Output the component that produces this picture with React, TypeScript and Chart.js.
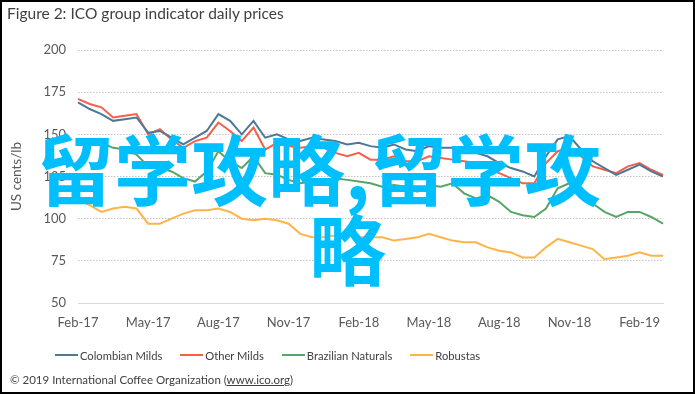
import React, { useEffect, useRef } from "react";
import { Chart, registerables } from "chart.js";

Chart.register(...registerables);

// semi-monthly observation dates, 1 Feb 2017 .. 1 Mar 2019
const dates: string[] = [
  "2017-02-01","2017-02-15","2017-03-01","2017-03-15","2017-04-01","2017-04-15",
  "2017-05-01","2017-05-15","2017-06-01","2017-06-15","2017-07-01","2017-07-15",
  "2017-08-01","2017-08-15","2017-09-01","2017-09-15","2017-10-01","2017-10-15",
  "2017-11-01","2017-11-15","2017-12-01","2017-12-15","2018-01-01","2018-01-15",
  "2018-02-01","2018-02-15","2018-03-01","2018-03-15","2018-04-01","2018-04-15",
  "2018-05-01","2018-05-15","2018-06-01","2018-06-15","2018-07-01","2018-07-15",
  "2018-08-01","2018-08-15","2018-09-01","2018-09-15","2018-10-01","2018-10-15",
  "2018-11-01","2018-11-15","2018-12-01","2018-12-15","2019-01-01","2019-01-15",
  "2019-02-01","2019-02-15","2019-03-01",
];

const tickLabels: string[] = [
  "Feb-17","May-17","Aug-17","Nov-17","Feb-18","May-18","Aug-18","Nov-18","Feb-19",
];

const colombianMilds: number[] = [
  169,165,162,158,159,160,151,152,148,144,148,152,162,158,150,158,148,150,
  147,146,148,147,146,144,145,143,142,144,141,140,143,142,142,139,139,137,
  133,130,128,125,137,147,149,141,134,130,126,129,132,128,125,
];

const otherMilds: number[] = [
  171,168,166,160,161,162,150,153,147,142,146,148,157,152,146,154,141,145,
  143,142,143,142,139,137,139,135,135,137,134,134,137,136,135,134,133,130,
  127,124,121,121,133,140,142,137,131,129,127,131,133,129,126,
];

const brazilianNaturals: number[] = [
  147,146,145,142,141,138,131,130,128,124,122,128,140,134,130,137,127,126,
  123,121,122,121,124,123,122,121,119,120,119,116,120,119,121,115,112,114,
  110,104,102,101,106,118,121,116,109,104,101,104,104,101,97,
];

const robustas: number[] = [
  111,108,104,106,107,106,97,97,100,103,105,105,106,104,100,99,100,99,
  97,91,89,89,90,90,89,89,89,87,88,89,91,89,87,86,86,83,
  81,80,77,77,83,88,86,84,82,76,77,78,80,78,78,
];

const seriesNames = ["Colombian Milds", "Other Milds", "Brazilian Naturals", "Robustas"];
const seriesColors = ["#4f7896", "#f5604b", "#58a466", "#ffb44a"];

export default function App() {
  const canvasRef = useRef<HTMLCanvasElement | null>(null);

  useEffect(() => {
    document.body.style.margin = "0";
    const ctx = canvasRef.current;
    if (!ctx) return;
    Chart.defaults.font.family = "Lato";
    const values = [colombianMilds, otherMilds, brazilianNaturals, robustas];
    const chart = new Chart(ctx, {
      type: "line",
      data: {
        labels: dates,
        datasets: values.map((v, i) => ({
          label: seriesNames[i],
          data: v,
          borderColor: seriesColors[i],
          backgroundColor: seriesColors[i],
          borderWidth: 2,
          pointRadius: 0,
          tension: 0,
          fill: false,
        })),
      },
      options: {
        animation: false,
        responsive: false,
        maintainAspectRatio: false,
        layout: { padding: { left: 8, right: 32, top: 50, bottom: 55 } },
        plugins: {
          tooltip: { enabled: false },
          legend: { display: false },
        },
        scales: {
          x: {
            type: "category",
            offset: false,
            grid: { display: false, drawTicks: false },
            border: { display: true, color: "#d9d9d9", width: 1 },
            ticks: {
              autoSkip: false,
              maxRotation: 0,
              padding: 12,
              color: "#595959",
              font: { size: 13, family: "Lato" },
              callback: (_v: any, i: number) => (i % 6 === 0 ? tickLabels[i / 6] : null),
            },
            afterFit: (s: any) => { s.height = 36; },
          },
          y: {
            min: 50,
            max: 200,
            grid: { color: "#c4c4c4", drawTicks: false, lineWidth: 1 },
            border: { display: false, dash: [1.5, 1.5] },
            ticks: {
              stepSize: 25,
              padding: 12,
              color: "#595959",
              font: { size: 13, family: "Lato" },
            },
            title: {
              display: true,
              text: "US cents/lb",
              color: "#595959",
              font: { size: 13.5, family: "Lato" },
              padding: { top: 1, bottom: 0 },
            },
            afterFit: (s: any) => { s.width = 70; },
          },
        },
      },
    });
    return () => chart.destroy();
  }, []);

  return (
    <div style={{ position: "absolute", left: 0, top: 0, width: 695, height: 394, background: "#fff", overflow: "hidden" }}>
      <canvas ref={canvasRef} width={695} height={394} style={{ position: "absolute", left: 0, top: 0 }} />
      <div style={{ position: "absolute", left: 7, top: 4, fontFamily: "Lato", fontSize: 15.5, color: "#404040", whiteSpace: "nowrap" }}>
        Figure 2: ICO group indicator daily prices
      </div>
      <div style={{ position: "absolute", left: 55, top: 347, height: 16, display: "flex", alignItems: "center", gap: 18, fontFamily: "Lato", fontSize: 11.2, color: "#404040", whiteSpace: "nowrap" }}>
        {seriesNames.map((n, i) => (
          <div key={n} style={{ display: "flex", alignItems: "center" }}>
            <span style={{ display: "inline-block", width: 23, height: 2, background: seriesColors[i], marginRight: 2 }} />
            <span>{n}</span>
          </div>
        ))}
      </div>
      <div style={{ position: "absolute", left: 10, top: 373, fontFamily: "Lato", fontSize: 11.5, color: "#404040", whiteSpace: "nowrap" }}>
        © 2019 International Coffee Organization (<span style={{ textDecoration: "underline" }}>www.ico.org</span>)
      </div>
      <div style={{ position: "absolute", left: 37, top: 127, fontFamily: "'Noto Sans CJK SC'", fontWeight: 700, fontSize: 77, lineHeight: "80px", color: "#00bfff", whiteSpace: "nowrap" }}>
        留学攻略,留学攻
      </div>
      <div style={{ position: "absolute", left: 309, top: 207, fontFamily: "'Noto Sans CJK SC'", fontWeight: 700, fontSize: 77, lineHeight: "80px", color: "#00bfff", whiteSpace: "nowrap" }}>
        略
      </div>
      <div style={{ position: "absolute", left: 0, top: 0, width: 695, height: 394, boxSizing: "border-box", border: "2px solid #000", pointerEvents: "none" }} />
    </div>
  );
}
